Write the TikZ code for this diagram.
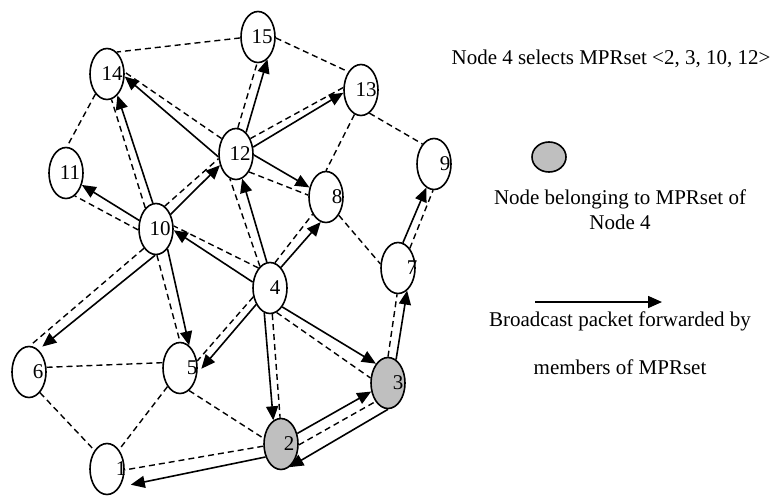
\documentclass[tikz,border=0pt]{standalone}
\usepackage{fontspec}
\setmainfont{Liberation Serif}
\usetikzlibrary{arrows.meta,shapes.geometric}
\tikzset{
  netnode/.style={ellipse, draw, line width=1.6pt, fill=white,
    minimum width=34pt, minimum height=51pt, inner sep=0pt},
  mprnode/.style={netnode, fill=black!25},
  nbr/.style={line width=1.4pt, dash pattern=on 6pt off 4pt},
  fwd/.style={line width=1.6pt, -{Triangle[length=14pt,width=12pt]}},
  lbl/.style={font=\fontsize{21}{25}\selectfont, inner sep=0pt},
}
\begin{document}
\begin{tikzpicture}[x=1pt, y=-1pt,
  every label/.style={font=\fontsize{21}{25}\selectfont, inner sep=0pt}]
\useasboundingbox (0,0) rectangle (778,496);

% network nodes (MPR members of node 4 are shaded)
\node[netnode, label={[xshift=14pt]center:1}]  (n1)  at (107,469) {};
\node[mprnode, label={[xshift=8pt]center:2}]   (n2)  at (281,444) {};
\node[mprnode, label={[xshift=10pt]center:3}]  (n3)  at (388,383) {};
\node[netnode, label={[xshift=5pt]center:4}]   (n4)  at (270,288) {};
\node[netnode, label={[xshift=12pt]center:5}]  (n5)  at (180,368) {};
\node[netnode, label={[xshift=9pt]center:6}]   (n6)  at (29,372) {};
\node[netnode, label={[xshift=14pt]center:7}]  (n7)  at (398,268) {};
\node[netnode, label={[xshift=11pt]center:8}]  (n8)  at (326,197) {};
\node[netnode, label={[xshift=11pt]center:9}]  (n9)  at (434,164) {};
\node[netnode, label={[xshift=4pt]center:10}]  (n10) at (156,229) {};
\node[netnode, label={[xshift=4pt]center:11}]  (n11) at (66,173) {};
\node[netnode, label={[xshift=4pt]center:12}]  (n12) at (236,154) {};
\node[netnode, label={[xshift=5pt]center:13}]  (n13) at (361,90) {};
\node[netnode, label={[xshift=5pt]center:14}]  (n14) at (107,74) {};
\node[netnode, label={[xshift=4pt]center:15}]  (n15) at (258,37) {};

% plain neighbour links
\draw[nbr] (n15.183) -- (n14.66);
\draw[nbr] (n14.240) -- (n11.88);
\draw[nbr] (n15.357) -- (n13.125);
\draw[nbr] (n13.255) -- (n8.90);
\draw[nbr] (n13.290) -- (n9.120);
\draw[nbr] (n8.305) -- (n7.167);
\draw[nbr] (n6.15) -- (n5.163);
\draw[nbr] (n6.298) -- (n1.124);
\draw[nbr] (n5.236) -- (n1.58);
\draw[nbr] (n5.292) -- (n2.162);

% neighbour links that carry a forwarded broadcast
\draw[nbr] (n12.86) -- (n15.268);
\draw[fwd] (n12.65) -- (n15.293);
\draw[nbr] (n12.47) -- (n13.172);
\draw[fwd] (n12.22) -- (n13.189);
\draw[nbr] (n12.133) -- (n14.6);
\draw[fwd] (n12.189) -- (n14.352);
\draw[nbr] (n12.306) -- (n8.174);
\draw[fwd] (n12.357) -- (n8.150);

\draw[nbr] (n10.117) -- (n14.280);
\draw[fwd] (n10.97) -- (n14.296);
\draw[nbr] (n10.183) -- (n11.291);
\draw[fwd] (n10.153) -- (n11.323);
\draw[nbr] (n10.69) -- (n12.195);
\draw[fwd] (n10.45) -- (n12.215);
\draw[nbr] (n10.272) -- (n5.90);
\draw[fwd] (n10.300) -- (n5.68);
\draw[nbr] (n10.238) -- (n6.88);
\draw[fwd, shorten >=5pt] (n10.268) -- (n6.67);

\draw[nbr] (n4.120) -- (n10.10);
\draw[fwd] (n4.161) -- (n10.356);
\draw[nbr] (n4.115) -- (n12.256);
\draw[fwd] (n4.97) -- (n12.284);
\draw[nbr] (n4.79) -- (n8.232);
\draw[fwd] (n4.62) -- (n8.258);
\draw[nbr] (n4.285) -- (n3.164);
\draw[fwd] (n4.303) -- (n3.122);
\draw[nbr] (n4.275) -- (n2.92);
\draw[fwd] (n4.257) -- (n2.108);
\draw[nbr] (n4.208) -- (n5.22);
\draw[fwd, shorten >=6pt] (n4.230) -- (n5.343);

\draw[nbr] (n7.59) -- (n9.268);
\draw[fwd] (n7.79) -- (n9.252);
\draw[nbr] (n3.90) -- (n7.268);
\draw[fwd] (n3.71) -- (n7.292);

\draw[nbr] (n2.357) -- (n3.236);
\draw[fwd] (n2.33) -- (n3.207);
\draw[fwd] (n3.270) -- (n2.290);
\draw[nbr] (n2.187) -- (n1.357);
\draw[fwd, shorten >=11pt] (n2.220) -- (n1.306);

% legend
\node[lbl, anchor=base] (title) at (611,64) {Node 4 selects MPRset <2, 3, 10, 12>};
\node[mprnode, minimum width=34pt, minimum height=30pt] (key) at (549,157) {};
\node[lbl, anchor=base] (keyA) at (620,204) {Node belonging to MPRset of};
\node[lbl, anchor=base] (keyB) at (620,229) {Node 4};
\coordinate (ka) at (535,302);
\coordinate (kb) at (662,302);
\draw[fwd] (ka) -- (kb);
\node[lbl, anchor=base] (keyC) at (620,326) {Broadcast packet forwarded by};
\node[lbl, anchor=base] (keyD) at (620,374) {members of MPRset};
\end{tikzpicture}
\end{document}
